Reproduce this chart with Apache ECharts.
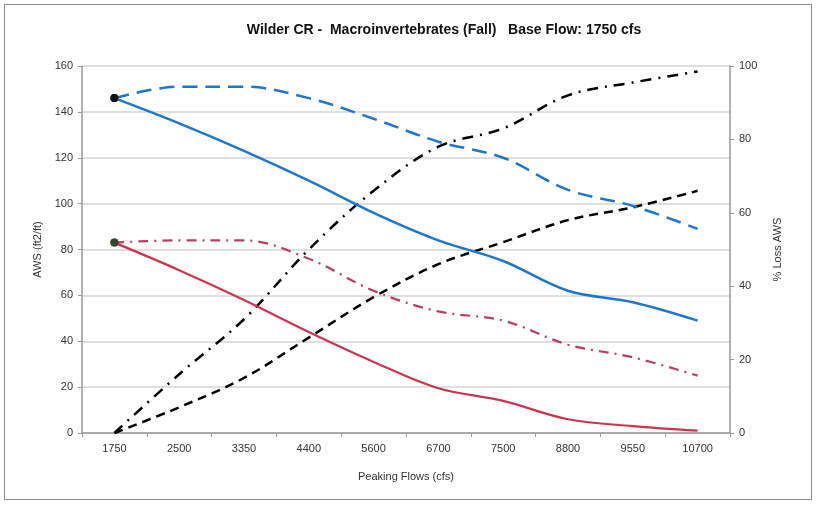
<!DOCTYPE html>
<html><head><meta charset="utf-8">
<script src="https://cdn.jsdelivr.net/npm/echarts@6/dist/echarts.min.js"></script>
<style>
html,body{margin:0;padding:0;background:#fff;}
#frame{position:absolute;left:4px;top:4px;width:808px;height:496px;border:1px solid #8a8a8a;box-sizing:border-box;}
#c{position:absolute;left:0;top:0;width:818px;height:505px;}
</style></head>
<body><div id="frame"></div><div id="c"></div>
<script>
const categories = ['1750','2500','3350','4400','5600','6700','7500','8800','9550','10700'];
const awsBlueSolid = [146,135,123,110,96,84,75,62,57,49];
const awsBlueDashed = [146,151,151,146,137,127,120,106,99,89];
const awsRedSolid = [83,71,58,44,31,19.5,14,6,3,1];
const awsRedDashDot = [83,84,84,76,62,53,49,38.5,33,25];
const lossDashDot = [0,16,31,50,66,78,83,92,95.5,98.5];
const lossDashed = [0,7,15,26,37,46,52,58,61.5,66];
const leftTicks = [0,20,40,60,80,100,120,140,160];
const rightTicks = [0,20,40,60,80,100];

function firstMarker(arr, color){
  return arr.map((v,i)=> i===0 ? {value:v, symbol:'circle', symbolSize:8, itemStyle:{color:color}} : {value:v, symbol:'none'});
}
const chart = echarts.init(document.getElementById('c'));
const font = 'Liberation Sans, Arial, sans-serif';
chart.setOption({
  animation:false,
  title:{text:'Wilder CR -  Macroinvertebrates (Fall)   Base Flow: 1750 cfs', left:439, textAlign:'center', top:18,
    textStyle:{fontFamily:font,fontSize:14,fontWeight:'bold',color:'#111'}},
  grid:{left:82,right:88,top:66,bottom:72},
  xAxis:{type:'category',data:categories,boundaryGap:true,
    name:'Peaking Flows (cfs)',nameLocation:'middle',nameGap:38,
    nameTextStyle:{fontFamily:font,fontSize:11,color:'#333'},
    axisLine:{lineStyle:{color:'#9a9a9a',width:1.5}},
    axisTick:{show:true,length:4,lineStyle:{color:'#9a9a9a'}},
    axisLabel:{fontFamily:font,fontSize:11,color:'#333',margin:10}},
  yAxis:[
    {type:'value',min:leftTicks[0],max:leftTicks[leftTicks.length-1],interval:20,
     name:'AWS (ft2/ft)',nameLocation:'middle',nameGap:32,nameRotate:90,
     nameTextStyle:{fontFamily:font,fontSize:11,color:'#333'},
     axisLine:{show:true,lineStyle:{color:'#9a9a9a',width:1.5}},
     axisTick:{show:true,length:4,lineStyle:{color:'#9a9a9a'}},
     axisLabel:{fontFamily:font,fontSize:11,color:'#333',margin:9},
     splitLine:{lineStyle:{color:'#d4d4d4',width:1.5}}},
    {type:'value',min:rightTicks[0],max:rightTicks[rightTicks.length-1],interval:20,
     name:'% Loss AWS',nameLocation:'middle',nameGap:42,nameRotate:90,
     nameTextStyle:{fontFamily:font,fontSize:11,color:'#333'},
     axisLine:{show:true,lineStyle:{color:'#9a9a9a',width:1.5}},
     axisTick:{show:true,length:4,lineStyle:{color:'#9a9a9a'}},
     axisLabel:{fontFamily:font,fontSize:11,color:'#333',margin:9},
     splitLine:{show:false}}
  ],
  series:[
    {type:'line',yAxisIndex:0,smooth:0.35,data:firstMarker(awsBlueSolid,'#111'),
     lineStyle:{color:'#1f77cc',width:2.5},itemStyle:{color:'#111'},z:5},
    {type:'line',yAxisIndex:0,smooth:0.35,data:firstMarker(awsBlueDashed,'#111'),
     lineStyle:{color:'#1f77cc',width:2.5,type:[15,8]},itemStyle:{color:'#111'},z:4},
    {type:'line',yAxisIndex:0,smooth:0.35,data:firstMarker(awsRedSolid,'#2f4a30'),
     lineStyle:{color:'#cc3450',width:2.2},itemStyle:{color:'#2f4a30'},z:5},
    {type:'line',yAxisIndex:0,smooth:0.35,data:firstMarker(awsRedDashDot,'#2f4a30'),
     lineStyle:{color:'#b8405c',width:2.2,type:[10,6,2,6]},itemStyle:{color:'#2f4a30'},z:4},
    {type:'line',yAxisIndex:1,smooth:0.35,data:lossDashDot.map(v=>({value:v,symbol:'none'})),
     lineStyle:{color:'#000',width:2.5,type:[11,7,2,7]},z:3},
    {type:'line',yAxisIndex:1,smooth:0.35,data:lossDashed.map(v=>({value:v,symbol:'none'})),
     lineStyle:{color:'#000',width:2.5,type:[9,6]},z:3}
  ]
});
</script></body></html>
